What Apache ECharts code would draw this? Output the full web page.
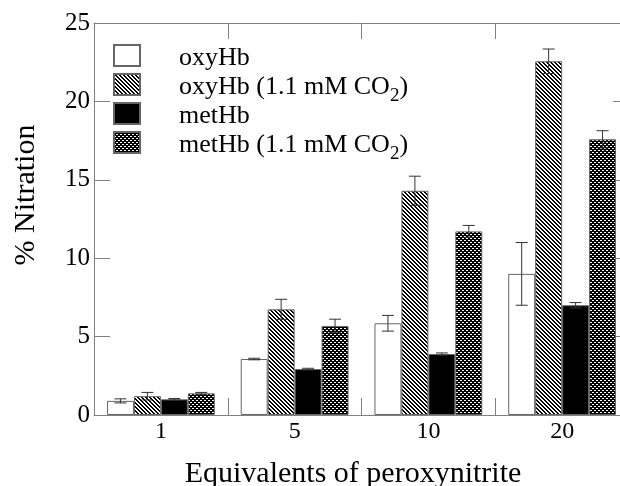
<!DOCTYPE html>
<html>
<head>
<meta charset="utf-8">
<script src="https://cdn.jsdelivr.net/npm/echarts@6/dist/echarts.min.js"></script>
<style>
html,body{margin:0;padding:0;background:#fff;}
#chart{width:620px;height:486px;}
</style>
</head>
<body>
<div id="chart"></div>
<script>
// ---- data ----
const categories = ['1', '5', '10', '20'];
const seriesNames = ['oxyHb', 'oxyHb (1.1 mM CO2)', 'metHb', 'metHb (1.1 mM CO2)'];
const oxyHb = [0.9, 3.57, 5.85, 9.0];
const oxyHbErr = [0.13, 0.05, 0.5, 2.0];
const oxyHbCO2 = [1.2, 6.74, 14.3, 22.56];
const oxyHbCO2Err = [0.24, 0.64, 0.93, 0.78];
const metHb = [1.0, 2.93, 3.89, 7.0];
const metHbErr = [0.05, 0.05, 0.07, 0.17];
const metHbCO2 = [1.38, 5.68, 11.71, 17.58];
const metHbCO2Err = [0.06, 0.43, 0.38, 0.55];
const yTicks = [0, 5, 10, 15, 20, 25];

const FONT = '"Liberation Serif", "Times New Roman", serif';
const GAP = 0.194;

function makeHatch() {
  const c = document.createElement('canvas');
  c.width = 4; c.height = 4;
  const g = c.getContext('2d');
  g.fillStyle = '#fff'; g.fillRect(0, 0, 4, 4);
  g.fillStyle = '#000';
  for (let y = 0; y < 4; y++) {
    g.fillRect(y % 4, y, 1, 1);
    g.fillRect((y + 1) % 4, y, 1, 1);
  }
  return c;
}
function makeChecker() {
  const c = document.createElement('canvas');
  c.width = 4; c.height = 4;
  const g = c.getContext('2d');
  g.fillStyle = '#000'; g.fillRect(0, 0, 4, 4);
  g.fillStyle = '#fff';
  g.fillRect(0, 0, 2, 1);
  g.fillRect(2, 2, 2, 1);
  return c;
}

const fills = [
  '#ffffff',
  { image: makeHatch(), repeat: 'repeat' },
  '#000000',
  { image: makeChecker(), repeat: 'repeat' }
];
const values = [oxyHb, oxyHbCO2, metHb, metHbCO2];
const errors = [oxyHbErr, oxyHbCO2Err, metHbErr, metHbCO2Err];

const barSeries = values.map((vals, k) => ({
  name: seriesNames[k],
  type: 'bar',
  data: vals,
  barGap: '0%',
  barCategoryGap: (GAP * 100) + '%',
  itemStyle: { color: fills[k], borderColor: '#666', borderWidth: 1 },
  emphasis: { disabled: true },
  animation: false,
  z: 2
}));

const errSeries = values.map((vals, k) => ({
  type: 'custom',
  name: 'err' + k,
  data: vals.map((v, i) => [i, v, errors[k][i], k]),
  encode: { x: 0, y: 1 },
  z: 5,
  animation: false,
  silent: true,
  renderItem: function (params, api) {
    const i = api.value(0), v = api.value(1), e = api.value(2), kk = api.value(3);
    const band = api.size([1, 0])[0];
    const bw = band * (1 - GAP) / 4;
    const base = api.coord([i, v]);
    const cx = base[0] + (kk - 1.5) * bw;
    const yt = api.coord([i, v + e])[1];
    const yb = api.coord([i, v - e])[1];
    const cap = 6;
    const st = { stroke: '#333', lineWidth: 1, fill: null };
    return {
      type: 'group',
      children: [
        { type: 'line', shape: { x1: cx, y1: yt, x2: cx, y2: yb }, style: st },
        { type: 'line', shape: { x1: cx - cap, y1: yt, x2: cx + cap, y2: yt }, style: st },
        { type: 'line', shape: { x1: cx - cap, y1: yb, x2: cx + cap, y2: yb }, style: st }
      ]
    };
  }
}));

const chart = echarts.init(document.getElementById('chart'), null, { renderer: 'canvas' });
const axisLineStyle = { color: '#808080', width: 1 };

chart.setOption({
  backgroundColor: '#fff',
  animation: false,
  grid: { left: 94, top: 23, width: 535, height: 392, outerBoundsMode: 'none', containLabel: false },
  legend: {
    data: seriesNames,
    orient: 'vertical',
    left: 113,
    top: 44,
    padding: 0,
    itemWidth: 26,
    itemHeight: 21,
    itemGap: -4,
    icon: 'rect',
    selectedMode: false,
    formatter: function (name) {
      const m = name.match(/^(.*CO)2\)$/);
      if (m) return '{a|' + m[1] + '}{s|2}{a|)}';
      return '{a|' + name + '}{s| }';
    },
    textStyle: {
      padding: [5, 0, 0, 34],
      rich: {
        a: { fontFamily: FONT, fontSize: 26, color: '#000', lineHeight: 38 },
        s: { fontFamily: FONT, fontSize: 19, color: '#000', lineHeight: 2, verticalAlign: 'bottom' }
      }
    }
  },
  xAxis: [
    {
      type: 'category',
      data: categories,
      position: 'bottom',
      name: 'Equivalents of peroxynitrite',
      nameLocation: 'middle',
      nameGap: 44,
      nameTextStyle: { fontFamily: FONT, fontSize: 30, color: '#000', padding: [0, 17, 0, 0] },
      axisLine: { onZero: false, lineStyle: axisLineStyle },
      axisTick: { show: true, interval: 0, inside: true, length: 17, lineStyle: axisLineStyle },
      axisLabel: { fontFamily: FONT, fontSize: 24, color: '#000', margin: 5 },
      splitLine: { show: false }
    },
    {
      type: 'category',
      data: categories,
      position: 'top',
      axisLine: { onZero: false, lineStyle: axisLineStyle },
      axisTick: { show: true, interval: 0, inside: true, length: 16, lineStyle: axisLineStyle },
      axisLabel: { show: false },
      splitLine: { show: false }
    }
  ],
  yAxis: [
    {
      type: 'value',
      min: yTicks[0],
      max: yTicks[yTicks.length - 1],
      interval: yTicks[1] - yTicks[0],
      position: 'left',
      name: '% Nitration',
      nameLocation: 'middle',
      nameGap: 53,
      nameRotate: 90,
      nameTextStyle: { fontFamily: FONT, fontSize: 30, color: '#000', padding: [0, 0, 0, 48] },
      axisLine: { show: true, onZero: false, lineStyle: axisLineStyle },
      axisTick: { show: true, inside: true, length: 16, lineStyle: axisLineStyle },
      axisLabel: { fontFamily: FONT, fontSize: 25, color: '#000', margin: 4 },
      splitLine: { show: false }
    },
    {
      type: 'value',
      min: yTicks[0],
      max: yTicks[yTicks.length - 1],
      interval: yTicks[1] - yTicks[0],
      position: 'right',
      axisLine: { show: true, onZero: false, lineStyle: axisLineStyle },
      axisTick: { show: true, inside: true, length: 16, lineStyle: axisLineStyle },
      axisLabel: { show: false },
      splitLine: { show: false }
    }
  ],
  series: barSeries.concat(errSeries)
});
</script>
</body>
</html>
